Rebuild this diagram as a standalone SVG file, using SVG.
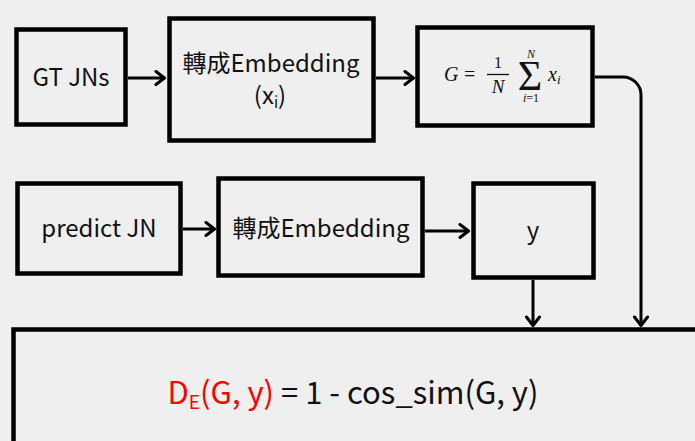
<svg xmlns="http://www.w3.org/2000/svg" width="695" height="441" viewBox="0 0 695 441">
  <style>
    .box { fill: #efefef; stroke: #000; stroke-width: 4.5; }
    .lbl { font-family: "Noto Sans CJK TC", "Noto Sans", sans-serif; font-size: 24px; fill: #111; text-anchor: middle; }
    .math { font-family: "Liberation Serif", "DejaVu Serif", serif; font-style: italic; fill: #111; }
    .mathr { font-family: "Liberation Serif", "DejaVu Serif", serif; fill: #111; }
    .conn { fill: none; stroke: #000; stroke-width: 3; }
  </style>
  <defs>
    <marker id="chev" viewBox="0 0 12 16" refX="11" refY="8" markerWidth="12" markerHeight="16" markerUnits="userSpaceOnUse" orient="auto">
      <path d="M2 1.5 L10.5 8 L2 14.5" fill="none" stroke="#000" stroke-width="3" stroke-linecap="round" stroke-linejoin="round"/>
    </marker>
  </defs>
  <rect width="695" height="441" fill="#efefef"/>

  <g id="connectors">
    <path class="conn" d="M128 78 H165" marker-end="url(#chev)"/>
    <path class="conn" d="M376 78 H414" marker-end="url(#chev)"/>
    <path class="conn" d="M595 77 H623 A18 18 0 0 1 641 95 V326" marker-end="url(#chev)"/>
    <path class="conn" d="M183 229 H215" marker-end="url(#chev)"/>
    <path class="conn" d="M425 231 H469" marker-end="url(#chev)"/>
    <path class="conn" d="M533 280 V326" marker-end="url(#chev)"/>
  </g>

  <g id="gt-jns">
    <rect class="box" x="16.5" y="29.5" width="109" height="95"/>
    <text class="lbl" x="71" y="86">GT JNs</text>
  </g>

  <g id="embed-gt">
    <rect class="box" x="169.5" y="18.5" width="204" height="122"/>
    <text class="lbl" x="271" y="72">轉成Embedding</text>
    <text class="lbl" x="270" y="104">(x<tspan font-size="15" dy="4">i</tspan><tspan dy="-4">)</tspan></text>
  </g>

  <g id="mean-g">
    <rect class="box" x="417.5" y="27.5" width="175" height="98"/>
    <text class="math" x="444" y="81" font-size="20">G</text>
    <text class="mathr" x="464" y="81" font-size="20">=</text>
    <text class="mathr" x="498" y="68" font-size="16" text-anchor="middle">1</text>
    <line x1="487" y1="74.5" x2="509" y2="74.5" stroke="#111" stroke-width="1.3"/>
    <text class="math" x="498" y="93" font-size="19" text-anchor="middle">N</text>
    <text class="mathr" x="530" y="90" font-size="42" text-anchor="middle">Σ</text>
    <text class="math" x="531" y="58" font-size="12" text-anchor="middle">N</text>
    <text class="math" x="531" y="102" font-size="12" text-anchor="middle">i<tspan class="mathr" font-style="normal">=1</tspan></text>
    <text class="math" x="548" y="81" font-size="20">x<tspan font-size="13" dy="3">i</tspan></text>
  </g>

  <g id="predict-jn">
    <rect class="box" x="17.5" y="183.5" width="163" height="90"/>
    <text class="lbl" x="99" y="237">predict JN</text>
  </g>

  <g id="embed-pred">
    <rect class="box" x="218.5" y="178.5" width="204" height="97"/>
    <text class="lbl" x="321" y="237">轉成Embedding</text>
  </g>

  <g id="y-node">
    <rect class="box" x="473.5" y="183.5" width="120" height="94"/>
    <text class="lbl" x="533" y="239">y</text>
  </g>

  <g id="distance">
    <rect class="box" x="13.5" y="329.5" width="700" height="200"/>
    <text x="353" y="404" font-family="Noto Sans CJK TC, Noto Sans, sans-serif" font-size="31" fill="#111" text-anchor="middle"><tspan fill="#ff0000">D<tspan font-size="19" dy="5">E</tspan><tspan dy="-5">(G, y)</tspan></tspan> = 1 - cos_sim(G, y)</text>
  </g>
</svg>
